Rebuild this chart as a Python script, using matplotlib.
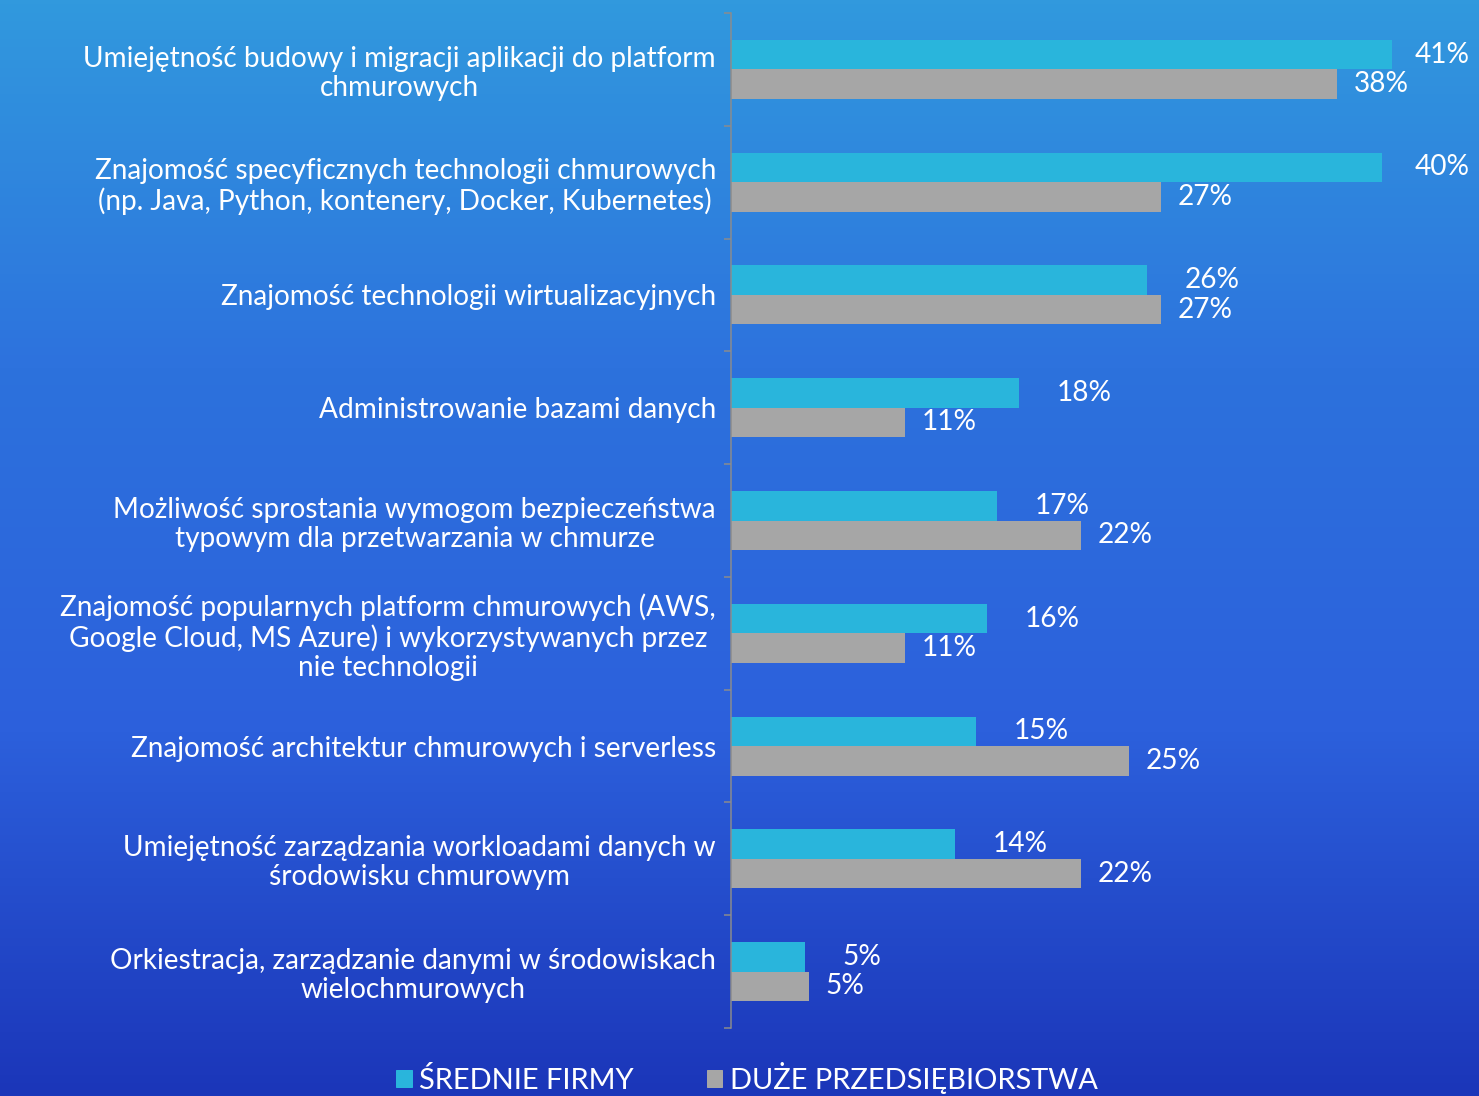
import numpy as np
import matplotlib.pyplot as plt
from matplotlib.colors import LinearSegmentedColormap
from matplotlib.patches import Patch

plt.rcParams['font.family'] = ['Lato', 'DejaVu Sans']

# ---------------- data ----------------
categories = [
    "Umiejętność budowy i migracji aplikacji do platform\nchmurowych",
    "Znajomość specyficznych technologii chmurowych\n(np. Java, Python, kontenery, Docker, Kubernetes)",
    "Znajomość technologii wirtualizacyjnych",
    "Administrowanie bazami danych",
    "Możliwość sprostania wymogom bezpieczeństwa\ntypowym dla przetwarzania w chmurze",
    "Znajomość popularnych platform chmurowych (AWS,\nGoogle Cloud, MS Azure) i wykorzystywanych przez\nnie technologii",
    "Znajomość architektur chmurowych i serverless",
    "Umiejętność zarządzania workloadami danych w\nśrodowisku chmurowym",
    "Orkiestracja, zarządzanie danymi w środowiskach\nwielochmurowych",
]
srednie = [41.3, 40.7, 26.0, 18.0, 16.6, 16.0, 15.3, 14.0, 4.6]
duze = [37.9, 26.9, 26.9, 10.9, 21.9, 10.9, 24.9, 21.9, 4.9]
srednie_lbl = ["41%", "40%", "26%", "18%", "17%", "16%", "15%", "14%", "5%"]
duze_lbl = ["38%", "27%", "27%", "11%", "22%", "11%", "25%", "22%", "5%"]
series_names = ["ŚREDNIE FIRMY", "DUŻE PRZEDSIĘBIORSTWA"]

CYAN = "#29b5dc"
GRAY = "#a6a6a6"
W, H, DPI = 1479, 1096, 72

fig = plt.figure(figsize=(W / DPI, H / DPI), dpi=DPI)

# background gradient
bg = fig.add_axes([0, 0, 1, 1], zorder=-10)
cmap = LinearSegmentedColormap.from_list(
    "bg", ["#3199dd", "#2d72dd", "#2c60dc", "#1b36b9"])
bg.imshow(np.linspace(0, 1, 256).reshape(-1, 1), aspect="auto", cmap=cmap,
          extent=[0, 1, 0, 1])
bg.set_axis_off()

left_px, top_px, bot_px = 731, 13, 1028
ax = fig.add_axes([left_px / W, 1 - bot_px / H, 1 - left_px / W,
                   (bot_px - top_px) / H])
ax.patch.set_alpha(0)

n = len(categories)
y = np.arange(n)
bh = 0.262
ax.barh(y - bh / 2, srednie, height=bh, color=CYAN)
ax.barh(y + bh / 2, duze, height=bh, color=GRAY)

px_per_unit = 16.0
ax.set_xlim(0, (W - left_px) / px_per_unit)
ax.set_ylim(n - 0.5, -0.5)

max_x = (1415 - left_px) / px_per_unit
for i in range(n):
    xs = min(srednie[i] + 38 / px_per_unit, max_x)
    ax.text(xs, y[i] - bh / 2, srednie_lbl[i], color="white", fontsize=28,
            va="center", ha="left")
    ax.text(duze[i] + 16 / px_per_unit, y[i] + bh / 2, duze_lbl[i],
            color="white", fontsize=28, va="center", ha="left")

for s in ["top", "right", "bottom"]:
    ax.spines[s].set_visible(False)
ax.spines["left"].set_color("#8c8c8c")
ax.spines["left"].set_linewidth(1.5)
ax.set_xticks([])
ax.set_yticks(y)
ax.set_yticklabels(categories, fontsize=28, color="white",
                   multialignment="center", linespacing=1.15)
ax.tick_params(axis="y", which="major", length=0, pad=15)
ax.set_yticks(np.arange(n + 1) - 0.5, minor=True)
ax.tick_params(axis="y", which="minor", length=7, width=1.5,
               color="#8c8c8c")

handles = [Patch(color=CYAN), Patch(color=GRAY)]
fig.legend(handles, series_names, loc="lower center",
           bbox_to_anchor=(0.505, -0.022), ncol=2, frameon=False,
           fontsize=29, labelcolor="white", handlelength=0.55,
           handleheight=0.55, handletextpad=0.25, columnspacing=2.5)

fig.savefig("out.png", dpi=DPI)
